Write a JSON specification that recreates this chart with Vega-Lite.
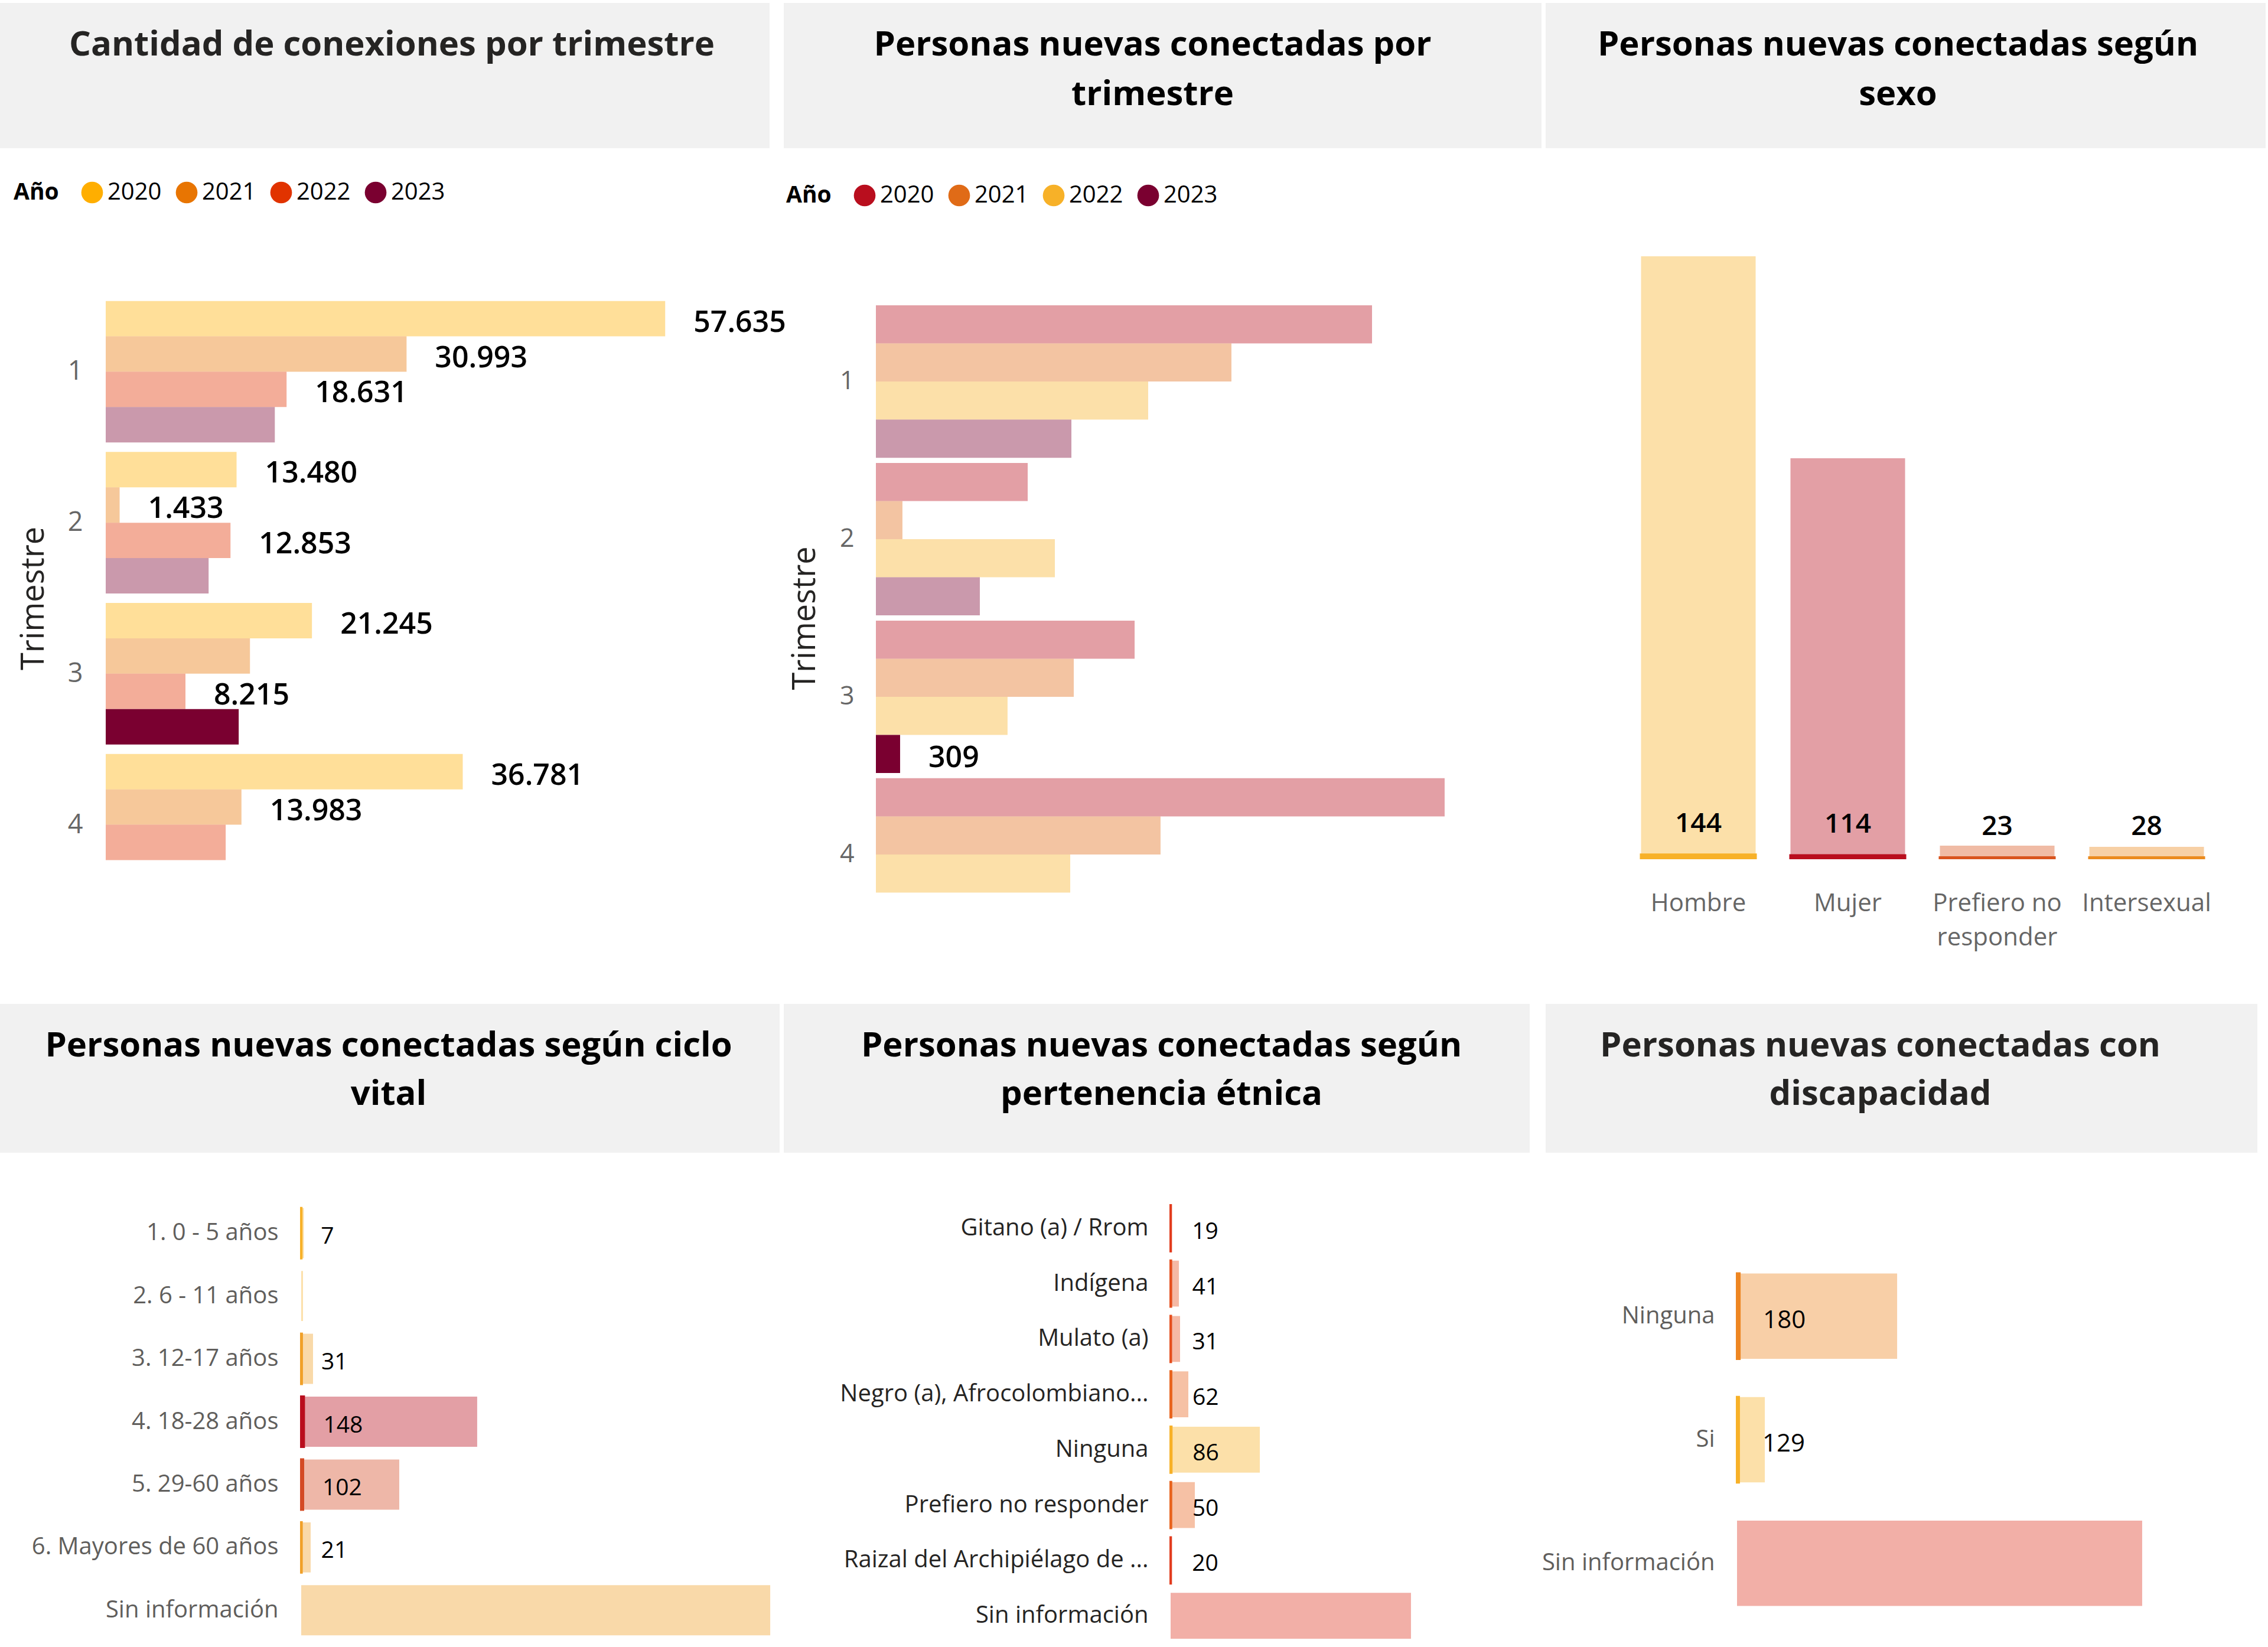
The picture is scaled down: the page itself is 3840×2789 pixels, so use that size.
{
  "$schema": "https://vega.github.io/schema/vega-lite/v6.json",
  "padding": {"left": 0, "top": 5, "right": 0, "bottom": 0},
  "background": "white",
  "config": {
    "font": "Open Sans",
    "view": {"stroke": null},
    "locale": {"number": {"decimal": ",", "thousands": ".", "grouping": [3], "currency": ["$", ""]}},
    "axis": {"grid": false, "domain": false, "ticks": false}
  },
  "datasets": {
    "conexiones": [
      {"trimestre": "1", "anio": "2020", "valor": 57635, "resaltado": false, "mostrar": true},
      {"trimestre": "1", "anio": "2021", "valor": 30993, "resaltado": false, "mostrar": true},
      {"trimestre": "1", "anio": "2022", "valor": 18631, "resaltado": false, "mostrar": true},
      {"trimestre": "1", "anio": "2023", "valor": 17420, "resaltado": false, "mostrar": false},
      {"trimestre": "2", "anio": "2020", "valor": 13480, "resaltado": false, "mostrar": true},
      {"trimestre": "2", "anio": "2021", "valor": 1433, "resaltado": false, "mostrar": true},
      {"trimestre": "2", "anio": "2022", "valor": 12853, "resaltado": false, "mostrar": true},
      {"trimestre": "2", "anio": "2023", "valor": 10600, "resaltado": false, "mostrar": false},
      {"trimestre": "3", "anio": "2020", "valor": 21245, "resaltado": false, "mostrar": true},
      {"trimestre": "3", "anio": "2021", "valor": 14860, "resaltado": false, "mostrar": false},
      {"trimestre": "3", "anio": "2022", "valor": 8215, "resaltado": false, "mostrar": true},
      {"trimestre": "3", "anio": "2023", "valor": 13700, "resaltado": true, "mostrar": false},
      {"trimestre": "4", "anio": "2020", "valor": 36781, "resaltado": false, "mostrar": true},
      {"trimestre": "4", "anio": "2021", "valor": 13983, "resaltado": false, "mostrar": true},
      {"trimestre": "4", "anio": "2022", "valor": 12360, "resaltado": false, "mostrar": false}
    ],
    "personas": [
      {"trimestre": "1", "anio": "2020", "valor": 6334, "resaltado": false, "mostrar": false},
      {"trimestre": "1", "anio": "2021", "valor": 4539, "resaltado": false, "mostrar": false},
      {"trimestre": "1", "anio": "2022", "valor": 3476, "resaltado": false, "mostrar": false},
      {"trimestre": "1", "anio": "2023", "valor": 2496, "resaltado": false, "mostrar": false},
      {"trimestre": "2", "anio": "2020", "valor": 1938, "resaltado": false, "mostrar": false},
      {"trimestre": "2", "anio": "2021", "valor": 339, "resaltado": false, "mostrar": false},
      {"trimestre": "2", "anio": "2022", "valor": 2285, "resaltado": false, "mostrar": false},
      {"trimestre": "2", "anio": "2023", "valor": 1327, "resaltado": false, "mostrar": false},
      {"trimestre": "3", "anio": "2020", "valor": 3303, "resaltado": false, "mostrar": false},
      {"trimestre": "3", "anio": "2021", "valor": 2526, "resaltado": false, "mostrar": false},
      {"trimestre": "3", "anio": "2022", "valor": 1681, "resaltado": false, "mostrar": false},
      {"trimestre": "3", "anio": "2023", "valor": 309, "resaltado": true, "mostrar": true},
      {"trimestre": "4", "anio": "2020", "valor": 7261, "resaltado": false, "mostrar": false},
      {"trimestre": "4", "anio": "2021", "valor": 3634, "resaltado": false, "mostrar": false},
      {"trimestre": "4", "anio": "2022", "valor": 2481, "resaltado": false, "mostrar": false}
    ],
    "sexo": [
      {"sexo": "Hombre", "total": 25780, "filtrado": 144},
      {"sexo": "Mujer", "total": 17130, "filtrado": 114},
      {"sexo": "Prefiero no responder", "total": 531, "filtrado": 23},
      {"sexo": "Intersexual", "total": 480, "filtrado": 28}
    ],
    "ciclo": [
      {"ciclo": "1. 0 - 5 años", "total": 150, "filtrado": 7},
      {"ciclo": "2. 6 - 11 años", "total": 100, "filtrado": 0},
      {"ciclo": "3. 12-17 años", "total": 676, "filtrado": 31},
      {"ciclo": "4. 18-28 años", "total": 10070, "filtrado": 148},
      {"ciclo": "5. 29-60 años", "total": 5610, "filtrado": 102},
      {"ciclo": "6. Mayores de 60 años", "total": 541, "filtrado": 21},
      {"ciclo": "Sin información", "total": 26840, "filtrado": 0}
    ],
    "etnia": [
      {"etnia": "Gitano (a) / Rrom", "total": 130, "filtrado": 19},
      {"etnia": "Indígena", "total": 924, "filtrado": 41},
      {"etnia": "Mulato (a)", "total": 1056, "filtrado": 31},
      {"etnia": "Negro (a), Afrocolombiano...", "total": 1980, "filtrado": 62},
      {"etnia": "Ninguna", "total": 9970, "filtrado": 86},
      {"etnia": "Prefiero no responder", "total": 2706, "filtrado": 50},
      {"etnia": "Raizal del Archipiélago de ...", "total": 130, "filtrado": 20},
      {"etnia": "Sin información", "total": 26860, "filtrado": 0}
    ],
    "discapacidad": [
      {"discapacidad": "Ninguna", "total": 11860, "filtrado": 180},
      {"discapacidad": "Si", "total": 2060, "filtrado": 129},
      {"discapacidad": "Sin información", "total": 30010, "filtrado": 0}
    ]
  },
  "columns": 3,
  "align": "each",
  "bounds": "flush",
  "spacing": {"row": 0, "column": 7},
  "resolve": {
    "scale": {"color": "independent", "stroke": "independent", "fillOpacity": "independent", "x": "independent", "y": "independent", "yOffset": "independent"},
    "legend": {"color": "independent"}
  },
  "concat": [
    {
      "width": 1303, "height": 246,
      "view": {"fill": "#F1F1F1", "stroke": null},
      "data": {"values": [{"titulo": "Cantidad de conexiones por trimestre\n "}]},
      "mark": {"type": "text", "fontSize": 58, "fontWeight": "bold", "color": "#252423", "lineBreak": "\n", "lineHeight": 84, "align": "center", "baseline": "middle", "dy": -51, "dx": 12},
      "encoding": {"text": {"field": "titulo", "type": "nominal"}}
    },
    {
      "width": 1283, "height": 246,
      "view": {"fill": "#F1F1F1", "stroke": null},
      "data": {"values": [{"titulo": "Personas nuevas conectadas por\ntrimestre"}]},
      "mark": {"type": "text", "fontSize": 58, "fontWeight": "bold", "color": "#000000", "lineBreak": "\n", "lineHeight": 84, "align": "center", "baseline": "middle", "dy": -51, "dx": -17},
      "encoding": {"text": {"field": "titulo", "type": "nominal"}}
    },
    {
      "width": 1219, "height": 246,
      "view": {"fill": "#F1F1F1", "stroke": null},
      "data": {"values": [{"titulo": "Personas nuevas conectadas según\nsexo"}]},
      "mark": {"type": "text", "fontSize": 58, "fontWeight": "bold", "color": "#000000", "lineBreak": "\n", "lineHeight": 84, "align": "center", "baseline": "middle", "dy": -51, "dx": -13},
      "encoding": {"text": {"field": "titulo", "type": "nominal"}}
    },
    {
      "width": 1320, "height": 1449,
      "data": {"name": "conexiones"},
      "encoding": {
        "y": {"field": "trimestre", "type": "nominal", "title": "Trimestre",
          "scale": {"range": [251, 1273], "paddingInner": 0.063, "paddingOuter": 0.03},
          "axis": {"offset": -179, "labelPadding": 39, "labelFontSize": 45, "labelColor": "#666666", "labelAngle": 0, "titleFontSize": 54, "titleFontWeight": "normal", "titleColor": "#252423", "titlePadding": 30}},
        "yOffset": {"field": "anio", "type": "nominal", "scale": {"paddingInner": 0, "paddingOuter": 0}},
        "x": {"field": "valor", "type": "quantitative", "scale": {"domain": [0, 67600], "range": [179, 1290], "nice": false, "zero": true}, "axis": null}
      },
      "layer": [
        {
          "mark": {"type": "bar"},
          "encoding": {
            "color": {"field": "anio", "type": "nominal", "title": "Año",
              "scale": {"domain": ["2020", "2021", "2022", "2023"], "range": ["#FFAE00", "#E87502", "#E13300", "#7A0030"]},
              "legend": {"orient": "none", "legendX": 23, "legendY": 55, "direction": "horizontal", "titleOrient": "left", "titleFontSize": 39, "titleFontWeight": "bold", "titleColor": "#000000", "titlePadding": 36, "labelFontSize": 40, "labelColor": "#000000", "symbolType": "circle", "symbolSize": 1350, "symbolOpacity": 1, "symbolStrokeWidth": 0, "labelOffset": 6, "columnPadding": 22}},
            "fillOpacity": {"condition": {"test": "datum.resaltado", "value": 1}, "value": 0.4}
          }
        },
        {
          "transform": [{"filter": "datum.mostrar"}],
          "mark": {"type": "text", "align": "left", "baseline": "middle", "dx": 48, "dy": 7, "fontSize": 50, "fontWeight": 600, "color": "#000000"},
          "encoding": {"text": {"field": "valor", "type": "quantitative", "format": ",d"}}
        }
      ]
    },
    {
      "width": 1283, "height": 1449,
      "data": {"name": "personas"},
      "encoding": {
        "y": {"field": "trimestre", "type": "nominal", "title": "Trimestre",
          "scale": {"range": [262, 1329], "paddingInner": 0.033, "paddingOuter": 0.015},
          "axis": {"offset": -156, "labelPadding": 37, "labelFontSize": 43, "labelColor": "#666666", "labelAngle": 0, "titleFontSize": 54, "titleFontWeight": "normal", "titleColor": "#252423", "titlePadding": 31}},
        "yOffset": {"field": "anio", "type": "nominal", "scale": {"paddingInner": 0, "paddingOuter": 0}},
        "x": {"field": "valor", "type": "quantitative", "scale": {"domain": [0, 8400], "range": [156, 1270], "nice": false, "zero": true}, "axis": null}
      },
      "layer": [
        {
          "mark": {"type": "bar"},
          "encoding": {
            "color": {"field": "anio", "type": "nominal", "title": "Año",
              "scale": {"domain": ["2020", "2021", "2022", "2023"], "range": ["#B90E1E", "#E06B17", "#F7B128", "#7A0030"]},
              "legend": {"orient": "none", "legendX": 4, "legendY": 60, "direction": "horizontal", "titleOrient": "left", "titleFontSize": 39, "titleFontWeight": "bold", "titleColor": "#000000", "titlePadding": 36, "labelFontSize": 40, "labelColor": "#000000", "symbolType": "circle", "symbolSize": 1350, "symbolOpacity": 1, "symbolStrokeWidth": 0, "labelOffset": 6, "columnPadding": 22}},
            "fillOpacity": {"condition": {"test": "datum.resaltado", "value": 1}, "value": 0.4}
          }
        },
        {
          "transform": [{"filter": "datum.mostrar"}],
          "mark": {"type": "text", "align": "left", "baseline": "middle", "dx": 48, "dy": 7, "fontSize": 50, "fontWeight": 600, "color": "#000000"},
          "encoding": {"text": {"field": "valor", "type": "quantitative", "format": ",d"}}
        }
      ]
    },
    {
      "width": 1223, "height": 1449,
      "data": {"name": "sexo"},
      "encoding": {
        "x": {"field": "sexo", "type": "nominal", "sort": null, "title": null,
          "scale": {"range": [132, 1144], "paddingInner": 0.233, "paddingOuter": 0.1165},
          "axis": {"orient": "bottom", "offset": -247, "labelPadding": 56, "labelFontSize": 42, "labelColor": "#666666", "labelAngle": 0, "labelLineHeight": 58, "labelLimit": 0,
            "labelExpr": "datum.label == 'Prefiero no responder' ? ['Prefiero no', 'responder'] : datum.label"}},
        "color": {"field": "sexo", "type": "nominal", "scale": {"domain": ["Hombre", "Mujer", "Prefiero no responder", "Intersexual"], "range": ["#F7B128", "#B90E1E", "#D9541E", "#EB8A1E"]}, "legend": null}
      },
      "layer": [
        {
          "mark": {"type": "bar"},
          "encoding": {
            "y": {"field": "total", "type": "quantitative", "scale": {"domain": [0, 30410], "range": [1202, 0], "nice": false, "zero": true}, "axis": null},
            "fillOpacity": {"value": 0.4}
          }
        },
        {
          "transform": [{"filter": "datum.filtrado > 0"}],
          "mark": {"type": "bar", "strokeWidth": 4},
          "encoding": {
            "y": {"field": "filtrado", "type": "quantitative", "scale": {"domain": [0, 30410], "range": [1202, 0], "nice": false, "zero": true}, "axis": null},
            "stroke": {"field": "sexo", "type": "nominal", "scale": {"domain": ["Hombre", "Mujer", "Prefiero no responder", "Intersexual"], "range": ["#F7B128", "#B90E1E", "#D9541E", "#EB8A1E"]}, "legend": null}
          }
        },
        {
          "transform": [{"filter": "datum.filtrado > 0"}],
          "mark": {"type": "text", "align": "center", "baseline": "bottom", "dy": -28, "fontSize": 46, "fontWeight": 600},
          "encoding": {
            "y": {"field": "filtrado", "type": "quantitative", "scale": {"domain": [0, 30410], "range": [1202, 0], "nice": false, "zero": true}, "axis": null},
            "text": {"field": "filtrado", "type": "quantitative", "format": ",d"},
            "color": {"value": "#000000"}
          }
        }
      ]
    },
    {
      "width": 1320, "height": 252,
      "view": {"fill": "#F1F1F1", "stroke": null},
      "data": {"values": [{"titulo": "Personas nuevas conectadas según ciclo\nvital"}]},
      "mark": {"type": "text", "fontSize": 58, "fontWeight": "bold", "color": "#000000", "lineBreak": "\n", "lineHeight": 82, "align": "center", "baseline": "middle", "dy": -54, "dx": -2},
      "encoding": {"text": {"field": "titulo", "type": "nominal"}}
    },
    {
      "width": 1263, "height": 252,
      "view": {"fill": "#F1F1F1", "stroke": null},
      "data": {"values": [{"titulo": "Personas nuevas conectadas según\npertenencia étnica"}]},
      "mark": {"type": "text", "fontSize": 58, "fontWeight": "bold", "color": "#000000", "lineBreak": "\n", "lineHeight": 82, "align": "center", "baseline": "middle", "dy": -54, "dx": 8},
      "encoding": {"text": {"field": "titulo", "type": "nominal"}}
    },
    {
      "width": 1205, "height": 252,
      "view": {"fill": "#F1F1F1", "stroke": null},
      "data": {"values": [{"titulo": "Personas nuevas conectadas con\ndiscapacidad"}]},
      "mark": {"type": "text", "fontSize": 58, "fontWeight": "bold", "color": "#252423", "lineBreak": "\n", "lineHeight": 82, "align": "center", "baseline": "middle", "dy": -54, "dx": -36},
      "encoding": {"text": {"field": "titulo", "type": "nominal"}}
    },
    {
      "width": 1320, "height": 837,
      "data": {"name": "ciclo"},
      "encoding": {
        "y": {"field": "ciclo", "type": "nominal", "sort": null, "title": null,
          "scale": {"range": [83, 828], "paddingInner": 0.202, "paddingOuter": 0.101},
          "axis": {"offset": -510, "labelPadding": 39, "labelFontSize": 40, "labelColor": "#605E5C", "labelLimit": 0}},
        "color": {"field": "ciclo", "type": "nominal", "legend": null,
          "scale": {"domain": ["1. 0 - 5 años", "2. 6 - 11 años", "3. 12-17 años", "4. 18-28 años", "5. 29-60 años", "6. Mayores de 60 años", "Sin información"],
            "range": ["#F7B128", "#F7B128", "#F0A028", "#B90E1E", "#D44A25", "#F0A028", "#F0A028"]}}
      },
      "layer": [
        {
          "mark": {"type": "bar"},
          "encoding": {
            "x": {"field": "total", "type": "quantitative", "scale": {"domain": [0, 27040], "range": [510, 1310], "nice": false}, "axis": null},
            "fillOpacity": {"value": 0.4}
          }
        },
        {
          "transform": [{"filter": "datum.filtrado > 0"}],
          "mark": {"type": "bar", "strokeWidth": 4},
          "encoding": {
            "x": {"field": "filtrado", "type": "quantitative", "scale": {"domain": [0, 27040], "range": [510, 1310], "nice": false}, "axis": null},
            "stroke": {"field": "ciclo", "type": "nominal", "legend": null,
              "scale": {"domain": ["1. 0 - 5 años", "2. 6 - 11 años", "3. 12-17 años", "4. 18-28 años", "5. 29-60 años", "6. Mayores de 60 años", "Sin información"],
                "range": ["#F7B128", "#F7B128", "#F0A028", "#B90E1E", "#D44A25", "#F0A028", "#F0A028"]}}
          }
        },
        {
          "transform": [{"filter": "datum.filtrado > 0"}],
          "mark": {"type": "text", "align": "left", "baseline": "middle", "dx": 33, "dy": 6, "fontSize": 39},
          "encoding": {
            "x": {"field": "filtrado", "type": "quantitative", "scale": {"domain": [0, 27040], "range": [510, 1310], "nice": false}, "axis": null},
            "text": {"field": "filtrado", "type": "quantitative", "format": ",d"},
            "color": {"value": "#000000"}
          }
        }
      ]
    },
    {
      "width": 1283, "height": 837,
      "data": {"name": "etnia"},
      "encoding": {
        "y": {"field": "etnia", "type": "nominal", "sort": null, "title": null,
          "scale": {"range": [81, 831], "paddingInner": 0.17, "paddingOuter": 0.085},
          "axis": {"offset": -655, "labelPadding": 38, "labelFontSize": 40, "labelColor": "#252423", "labelLimit": 0}},
        "color": {"field": "etnia", "type": "nominal", "legend": null,
          "scale": {"domain": ["Gitano (a) / Rrom", "Indígena", "Mulato (a)", "Negro (a), Afrocolombiano...", "Ninguna", "Prefiero no responder", "Raizal del Archipiélago de ...", "Sin información"],
            "range": ["#E23D1F", "#E5501F", "#E5501F", "#E8641E", "#F7B128", "#E8641E", "#E23D1F", "#DE3723"]}}
      },
      "layer": [
        {
          "mark": {"type": "bar"},
          "encoding": {
            "x": {"field": "total", "type": "quantitative", "scale": {"domain": [0, 39600], "range": [655, 1255], "nice": false}, "axis": null},
            "fillOpacity": {"value": 0.4}
          }
        },
        {
          "transform": [{"filter": "datum.filtrado > 0"}],
          "mark": {"type": "bar", "strokeWidth": 4},
          "encoding": {
            "x": {"field": "filtrado", "type": "quantitative", "scale": {"domain": [0, 39600], "range": [655, 1255], "nice": false}, "axis": null},
            "stroke": {"field": "etnia", "type": "nominal", "legend": null,
              "scale": {"domain": ["Gitano (a) / Rrom", "Indígena", "Mulato (a)", "Negro (a), Afrocolombiano...", "Ninguna", "Prefiero no responder", "Raizal del Archipiélago de ...", "Sin información"],
                "range": ["#E23D1F", "#E5501F", "#E5501F", "#E8641E", "#F7B128", "#E8641E", "#E23D1F", "#DE3723"]}}
          }
        },
        {
          "transform": [{"filter": "datum.filtrado > 0"}],
          "mark": {"type": "text", "align": "left", "baseline": "middle", "dx": 36, "dy": 6, "fontSize": 39},
          "encoding": {
            "x": {"field": "filtrado", "type": "quantitative", "scale": {"domain": [0, 39600], "range": [655, 1255], "nice": false}, "axis": null},
            "text": {"field": "filtrado", "type": "quantitative", "format": ",d"},
            "color": {"value": "#000000"}
          }
        }
      ]
    },
    {
      "width": 1223, "height": 837,
      "data": {"name": "discapacidad"},
      "encoding": {
        "y": {"field": "discapacidad", "type": "nominal", "sort": null, "title": null,
          "scale": {"range": [172, 800], "paddingInner": 0.31, "paddingOuter": 0.155},
          "axis": {"offset": -324, "labelPadding": 38, "labelFontSize": 40, "labelColor": "#605E5C", "labelLimit": 0}},
        "color": {"field": "discapacidad", "type": "nominal", "legend": null,
          "scale": {"domain": ["Ninguna", "Si", "Sin información"], "range": ["#EE8622", "#F7B128", "#DE3723"]}}
      },
      "layer": [
        {
          "mark": {"type": "bar"},
          "encoding": {
            "x": {"field": "total", "type": "quantitative", "scale": {"domain": [0, 38500], "range": [324, 1204], "nice": false}, "axis": null},
            "fillOpacity": {"value": 0.4}
          }
        },
        {
          "transform": [{"filter": "datum.filtrado > 0"}],
          "mark": {"type": "bar", "strokeWidth": 4},
          "encoding": {
            "x": {"field": "filtrado", "type": "quantitative", "scale": {"domain": [0, 38500], "range": [324, 1204], "nice": false}, "axis": null},
            "stroke": {"field": "discapacidad", "type": "nominal", "legend": null,
              "scale": {"domain": ["Ninguna", "Si", "Sin información"], "range": ["#EE8622", "#F7B128", "#DE3723"]}}
          }
        },
        {
          "transform": [{"filter": "datum.filtrado > 0"}],
          "mark": {"type": "text", "align": "left", "baseline": "middle", "dx": 40, "dy": 7, "fontSize": 42},
          "encoding": {
            "x": {"field": "filtrado", "type": "quantitative", "scale": {"domain": [0, 38500], "range": [324, 1204], "nice": false}, "axis": null},
            "text": {"field": "filtrado", "type": "quantitative", "format": ",d"},
            "color": {"value": "#000000"}
          }
        }
      ]
    }
  ]
}
